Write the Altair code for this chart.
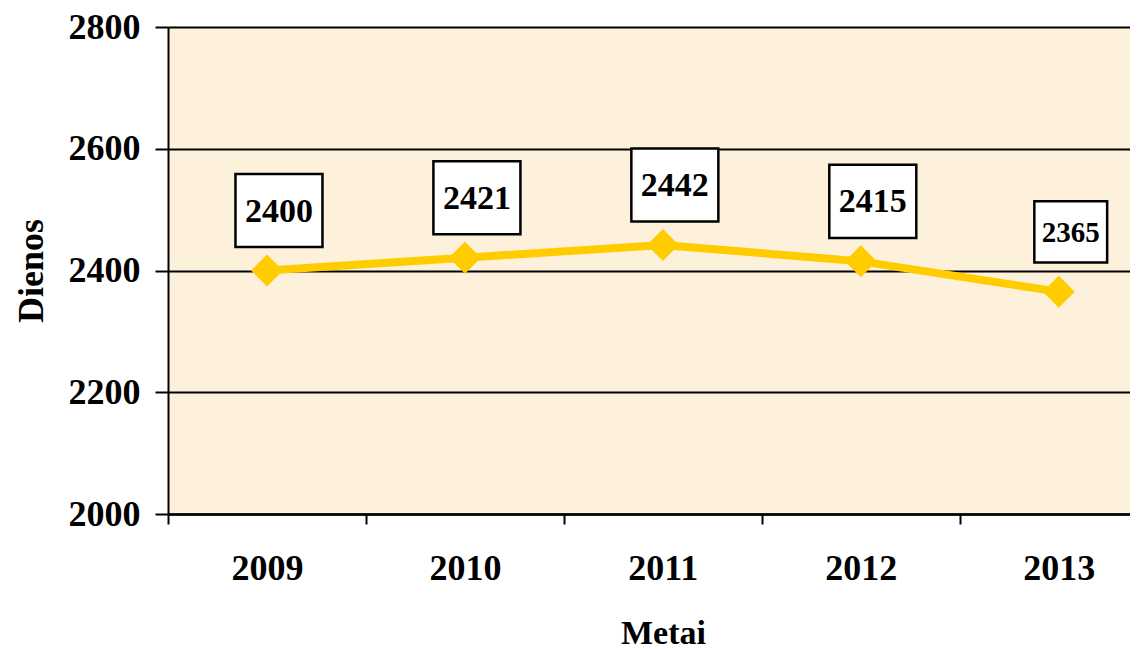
import altair as alt
import pandas as pd

years = [2009, 2010, 2011, 2012, 2013]
days = [2400, 2421, 2442, 2415, 2365]
x_domain = [2008.5, 2013.36]
x_boundaries = [2008.5, 2009.5, 2010.5, 2011.5, 2012.5]
y_ticks = [2000, 2200, 2400, 2600, 2800]

df = pd.DataFrame({"Metai": years, "Dienos": days})

FONT = "Liberation Serif"
LINE_COLOR = "#FFCC00"

x_scale = alt.Scale(domain=x_domain, nice=False, zero=False)

# axis carrying the year labels (centered under each category)
x_label_axis = alt.X(
    "Metai:Q",
    scale=x_scale,
    axis=alt.Axis(
        orient="bottom",
        values=years,
        format="d",
        ticks=False,
        domainColor="black",
        domainWidth=2,
        grid=False,
        labelFont=FONT,
        labelFontSize=36,
        labelFontWeight="bold",
        labelColor="black",
        labelPadding=37,
        labelOverlap=False,
        title="Metai",
        titleFont=FONT,
        titleFontSize=34,
        titleFontWeight="bold",
        titleColor="black",
        titlePadding=30,
        titleX=495,
    ),
)

# axis carrying the category boundary ticks
x_tick_axis = alt.X(
    "Metai:Q",
    scale=x_scale,
    axis=alt.Axis(
        orient="bottom",
        values=x_boundaries,
        labels=False,
        tickColor="black",
        tickSize=10,
        tickWidth=2,
        domainColor="black",
        domainWidth=2,
        grid=False,
        title=None,
    ),
)

y_enc = alt.Y(
    "Dienos:Q",
    scale=alt.Scale(domain=[2000, 2800], nice=False, zero=False),
    axis=alt.Axis(
        values=y_ticks,
        format="d",
        tickSize=13,
        tickWidth=2,
        tickColor="black",
        domainColor="black",
        domainWidth=2,
        grid=True,
        gridColor="black",
        gridWidth=2,
        labelFont=FONT,
        labelFontSize=36,
        labelFontWeight="bold",
        labelColor="black",
        labelPadding=15,
        title="Dienos",
        titleFont=FONT,
        titleFontSize=36,
        titleFontWeight="bold",
        titleColor="black",
        titlePadding=18,
    ),
)

x_plain = alt.X("Metai:Q", scale=x_scale, axis=None)

base = alt.Chart(df)

line = base.mark_line(color=LINE_COLOR, strokeWidth=8).encode(x=x_label_axis, y=y_enc)
points = base.mark_point(
    shape="diamond", filled=True, color=LINE_COLOR, opacity=1, size=1024
).encode(x=x_tick_axis, y=y_enc)

boxes = base.mark_point(
    shape="M-1,-0.84L1,-0.84L1,0.84L-1,0.84Z",
    filled=True,
    fill="white",
    stroke="black",
    strokeWidth=2.5,
    opacity=1,
    xOffset=12,
    yOffset=-60,
).encode(
    x=x_plain,
    y=y_enc,
    size=alt.condition(alt.datum.Metai == 2013, alt.value(5300), alt.value(7569)),
)

labels = base.mark_text(
    font=FONT, fontWeight="bold", color="black", dx=12, dy=-59, baseline="middle"
).encode(
    x=x_plain,
    y=y_enc,
    text=alt.Text("Dienos:Q", format="d"),
    size=alt.condition(alt.datum.Metai == 2013, alt.value(29), alt.value(34)),
)

chart = (
    alt.layer(line, points, boxes, labels)
    .resolve_axis(x="independent")
    .properties(width=962, height=487, padding={"left": 5, "top": 1, "right": 0, "bottom": 0})
    .configure_view(fill="#FDF1DB", strokeWidth=0)
)

chart.save("out.html", embed_options={"renderer": "svg", "actions": False})
